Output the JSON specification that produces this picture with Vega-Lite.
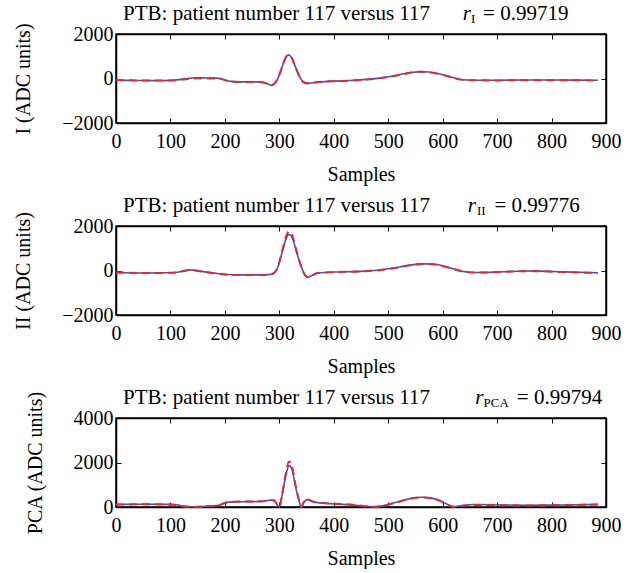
{
  "$schema": "https://vega.github.io/schema/vega-lite/v6.json",
  "background": "white",
  "padding": {"left": 12, "top": 2, "right": 5, "bottom": 0},
  "spacing": 9,
  "datasets": {
    "ecg": [
      {"lead":"I","series":"measured","sample":0,"adc":-80},{"lead":"I","series":"measured","sample":20,"adc":-85},{"lead":"I","series":"measured","sample":50,"adc":-90},{"lead":"I","series":"measured","sample":80,"adc":-95},{"lead":"I","series":"measured","sample":100,"adc":-85},{"lead":"I","series":"measured","sample":120,"adc":-40},{"lead":"I","series":"measured","sample":140,"adc":20},{"lead":"I","series":"measured","sample":150,"adc":35},{"lead":"I","series":"measured","sample":165,"adc":25},{"lead":"I","series":"measured","sample":185,"adc":15},{"lead":"I","series":"measured","sample":195,"adc":-20},{"lead":"I","series":"measured","sample":210,"adc":-130},{"lead":"I","series":"measured","sample":230,"adc":-150},{"lead":"I","series":"measured","sample":260,"adc":-150},{"lead":"I","series":"measured","sample":272,"adc":-180},{"lead":"I","series":"measured","sample":280,"adc":-260},{"lead":"I","series":"measured","sample":286,"adc":-310},{"lead":"I","series":"measured","sample":292,"adc":-220},{"lead":"I","series":"measured","sample":300,"adc":150},{"lead":"I","series":"measured","sample":307,"adc":650},{"lead":"I","series":"measured","sample":313,"adc":1000},{"lead":"I","series":"measured","sample":317,"adc":1060},{"lead":"I","series":"measured","sample":322,"adc":960},{"lead":"I","series":"measured","sample":330,"adc":500},{"lead":"I","series":"measured","sample":338,"adc":50},{"lead":"I","series":"measured","sample":345,"adc":-170},{"lead":"I","series":"measured","sample":352,"adc":-220},{"lead":"I","series":"measured","sample":362,"adc":-190},{"lead":"I","series":"measured","sample":380,"adc":-150},{"lead":"I","series":"measured","sample":400,"adc":-120},{"lead":"I","series":"measured","sample":430,"adc":-90},{"lead":"I","series":"measured","sample":460,"adc":-40},{"lead":"I","series":"measured","sample":490,"adc":40},{"lead":"I","series":"measured","sample":520,"adc":170},{"lead":"I","series":"measured","sample":545,"adc":280},{"lead":"I","series":"measured","sample":560,"adc":310},{"lead":"I","series":"measured","sample":575,"adc":290},{"lead":"I","series":"measured","sample":595,"adc":200},{"lead":"I","series":"measured","sample":615,"adc":70},{"lead":"I","series":"measured","sample":630,"adc":-30},{"lead":"I","series":"measured","sample":645,"adc":-70},{"lead":"I","series":"measured","sample":660,"adc":-80},{"lead":"I","series":"measured","sample":700,"adc":-80},{"lead":"I","series":"measured","sample":750,"adc":-70},{"lead":"I","series":"measured","sample":800,"adc":-70},{"lead":"I","series":"measured","sample":850,"adc":-75},{"lead":"I","series":"measured","sample":885,"adc":-80},

      {"lead":"I","series":"reconstructed","sample":0,"adc":-60},{"lead":"I","series":"reconstructed","sample":20,"adc":-80},{"lead":"I","series":"reconstructed","sample":50,"adc":-90},{"lead":"I","series":"reconstructed","sample":80,"adc":-95},{"lead":"I","series":"reconstructed","sample":100,"adc":-90},{"lead":"I","series":"reconstructed","sample":120,"adc":-50},{"lead":"I","series":"reconstructed","sample":140,"adc":0},{"lead":"I","series":"reconstructed","sample":150,"adc":10},{"lead":"I","series":"reconstructed","sample":165,"adc":0},{"lead":"I","series":"reconstructed","sample":185,"adc":0},{"lead":"I","series":"reconstructed","sample":195,"adc":-40},{"lead":"I","series":"reconstructed","sample":210,"adc":-140},{"lead":"I","series":"reconstructed","sample":230,"adc":-155},{"lead":"I","series":"reconstructed","sample":260,"adc":-155},{"lead":"I","series":"reconstructed","sample":272,"adc":-190},{"lead":"I","series":"reconstructed","sample":280,"adc":-260},{"lead":"I","series":"reconstructed","sample":286,"adc":-290},{"lead":"I","series":"reconstructed","sample":292,"adc":-200},{"lead":"I","series":"reconstructed","sample":300,"adc":170},{"lead":"I","series":"reconstructed","sample":307,"adc":660},{"lead":"I","series":"reconstructed","sample":313,"adc":990},{"lead":"I","series":"reconstructed","sample":317,"adc":1040},{"lead":"I","series":"reconstructed","sample":322,"adc":950},{"lead":"I","series":"reconstructed","sample":330,"adc":480},{"lead":"I","series":"reconstructed","sample":338,"adc":40},{"lead":"I","series":"reconstructed","sample":345,"adc":-180},{"lead":"I","series":"reconstructed","sample":352,"adc":-215},{"lead":"I","series":"reconstructed","sample":362,"adc":-180},{"lead":"I","series":"reconstructed","sample":380,"adc":-140},{"lead":"I","series":"reconstructed","sample":400,"adc":-120},{"lead":"I","series":"reconstructed","sample":430,"adc":-100},{"lead":"I","series":"reconstructed","sample":460,"adc":-50},{"lead":"I","series":"reconstructed","sample":490,"adc":30},{"lead":"I","series":"reconstructed","sample":520,"adc":160},{"lead":"I","series":"reconstructed","sample":545,"adc":270},{"lead":"I","series":"reconstructed","sample":560,"adc":300},{"lead":"I","series":"reconstructed","sample":575,"adc":280},{"lead":"I","series":"reconstructed","sample":595,"adc":190},{"lead":"I","series":"reconstructed","sample":615,"adc":60},{"lead":"I","series":"reconstructed","sample":630,"adc":-40},{"lead":"I","series":"reconstructed","sample":645,"adc":-75},{"lead":"I","series":"reconstructed","sample":660,"adc":-80},{"lead":"I","series":"reconstructed","sample":700,"adc":-85},{"lead":"I","series":"reconstructed","sample":750,"adc":-80},{"lead":"I","series":"reconstructed","sample":800,"adc":-75},{"lead":"I","series":"reconstructed","sample":850,"adc":-80},{"lead":"I","series":"reconstructed","sample":885,"adc":-90},

      {"lead":"II","series":"measured","sample":0,"adc":-100},{"lead":"II","series":"measured","sample":50,"adc":-110},{"lead":"II","series":"measured","sample":100,"adc":-100},{"lead":"II","series":"measured","sample":115,"adc":-70},{"lead":"II","series":"measured","sample":125,"adc":-10},{"lead":"II","series":"measured","sample":135,"adc":30},{"lead":"II","series":"measured","sample":145,"adc":10},{"lead":"II","series":"measured","sample":160,"adc":-50},{"lead":"II","series":"measured","sample":180,"adc":-110},{"lead":"II","series":"measured","sample":200,"adc":-170},{"lead":"II","series":"measured","sample":220,"adc":-195},{"lead":"II","series":"measured","sample":260,"adc":-195},{"lead":"II","series":"measured","sample":280,"adc":-185},{"lead":"II","series":"measured","sample":290,"adc":-120},{"lead":"II","series":"measured","sample":298,"adc":200},{"lead":"II","series":"measured","sample":305,"adc":800},{"lead":"II","series":"measured","sample":312,"adc":1400},{"lead":"II","series":"measured","sample":318,"adc":1620},{"lead":"II","series":"measured","sample":324,"adc":1450},{"lead":"II","series":"measured","sample":332,"adc":800},{"lead":"II","series":"measured","sample":340,"adc":200},{"lead":"II","series":"measured","sample":347,"adc":-200},{"lead":"II","series":"measured","sample":353,"adc":-290},{"lead":"II","series":"measured","sample":360,"adc":-220},{"lead":"II","series":"measured","sample":370,"adc":-110},{"lead":"II","series":"measured","sample":400,"adc":-70},{"lead":"II","series":"measured","sample":450,"adc":-40},{"lead":"II","series":"measured","sample":480,"adc":10},{"lead":"II","series":"measured","sample":510,"adc":110},{"lead":"II","series":"measured","sample":540,"adc":240},{"lead":"II","series":"measured","sample":565,"adc":300},{"lead":"II","series":"measured","sample":585,"adc":280},{"lead":"II","series":"measured","sample":605,"adc":180},{"lead":"II","series":"measured","sample":625,"adc":40},{"lead":"II","series":"measured","sample":640,"adc":-50},{"lead":"II","series":"measured","sample":660,"adc":-90},{"lead":"II","series":"measured","sample":700,"adc":-70},{"lead":"II","series":"measured","sample":750,"adc":-20},{"lead":"II","series":"measured","sample":780,"adc":-30},{"lead":"II","series":"measured","sample":820,"adc":-60},{"lead":"II","series":"measured","sample":885,"adc":-100},

      {"lead":"II","series":"reconstructed","sample":0,"adc":-80},{"lead":"II","series":"reconstructed","sample":50,"adc":-115},{"lead":"II","series":"reconstructed","sample":100,"adc":-105},{"lead":"II","series":"reconstructed","sample":115,"adc":-80},{"lead":"II","series":"reconstructed","sample":125,"adc":-20},{"lead":"II","series":"reconstructed","sample":135,"adc":20},{"lead":"II","series":"reconstructed","sample":145,"adc":0},{"lead":"II","series":"reconstructed","sample":160,"adc":-60},{"lead":"II","series":"reconstructed","sample":180,"adc":-120},{"lead":"II","series":"reconstructed","sample":200,"adc":-180},{"lead":"II","series":"reconstructed","sample":220,"adc":-205},{"lead":"II","series":"reconstructed","sample":260,"adc":-205},{"lead":"II","series":"reconstructed","sample":280,"adc":-195},{"lead":"II","series":"reconstructed","sample":290,"adc":-120},{"lead":"II","series":"reconstructed","sample":298,"adc":220},{"lead":"II","series":"reconstructed","sample":305,"adc":850},{"lead":"II","series":"reconstructed","sample":312,"adc":1500},{"lead":"II","series":"reconstructed","sample":318,"adc":1760},{"lead":"II","series":"reconstructed","sample":324,"adc":1560},{"lead":"II","series":"reconstructed","sample":332,"adc":840},{"lead":"II","series":"reconstructed","sample":340,"adc":200},{"lead":"II","series":"reconstructed","sample":347,"adc":-210},{"lead":"II","series":"reconstructed","sample":353,"adc":-310},{"lead":"II","series":"reconstructed","sample":360,"adc":-230},{"lead":"II","series":"reconstructed","sample":370,"adc":-115},{"lead":"II","series":"reconstructed","sample":400,"adc":-75},{"lead":"II","series":"reconstructed","sample":450,"adc":-45},{"lead":"II","series":"reconstructed","sample":480,"adc":5},{"lead":"II","series":"reconstructed","sample":510,"adc":100},{"lead":"II","series":"reconstructed","sample":540,"adc":230},{"lead":"II","series":"reconstructed","sample":565,"adc":295},{"lead":"II","series":"reconstructed","sample":585,"adc":270},{"lead":"II","series":"reconstructed","sample":605,"adc":170},{"lead":"II","series":"reconstructed","sample":625,"adc":30},{"lead":"II","series":"reconstructed","sample":640,"adc":-60},{"lead":"II","series":"reconstructed","sample":660,"adc":-95},{"lead":"II","series":"reconstructed","sample":700,"adc":-75},{"lead":"II","series":"reconstructed","sample":750,"adc":-30},{"lead":"II","series":"reconstructed","sample":780,"adc":-35},{"lead":"II","series":"reconstructed","sample":820,"adc":-70},{"lead":"II","series":"reconstructed","sample":885,"adc":-110},

      {"lead":"PCA","series":"measured","sample":0,"adc":120},{"lead":"PCA","series":"measured","sample":50,"adc":125},{"lead":"PCA","series":"measured","sample":100,"adc":120},{"lead":"PCA","series":"measured","sample":112,"adc":100},{"lead":"PCA","series":"measured","sample":125,"adc":30},{"lead":"PCA","series":"measured","sample":140,"adc":10},{"lead":"PCA","series":"measured","sample":155,"adc":15},{"lead":"PCA","series":"measured","sample":175,"adc":50},{"lead":"PCA","series":"measured","sample":190,"adc":90},{"lead":"PCA","series":"measured","sample":200,"adc":180},{"lead":"PCA","series":"measured","sample":215,"adc":230},{"lead":"PCA","series":"measured","sample":240,"adc":240},{"lead":"PCA","series":"measured","sample":270,"adc":250},{"lead":"PCA","series":"measured","sample":283,"adc":310},{"lead":"PCA","series":"measured","sample":290,"adc":290},{"lead":"PCA","series":"measured","sample":296,"adc":100},{"lead":"PCA","series":"measured","sample":300,"adc":0},{"lead":"PCA","series":"measured","sample":305,"adc":500},{"lead":"PCA","series":"measured","sample":311,"adc":1300},{"lead":"PCA","series":"measured","sample":318,"adc":1860},{"lead":"PCA","series":"measured","sample":323,"adc":1700},{"lead":"PCA","series":"measured","sample":330,"adc":900},{"lead":"PCA","series":"measured","sample":336,"adc":300},{"lead":"PCA","series":"measured","sample":340,"adc":0},{"lead":"PCA","series":"measured","sample":346,"adc":250},{"lead":"PCA","series":"measured","sample":352,"adc":330},{"lead":"PCA","series":"measured","sample":360,"adc":250},{"lead":"PCA","series":"measured","sample":375,"adc":180},{"lead":"PCA","series":"measured","sample":400,"adc":140},{"lead":"PCA","series":"measured","sample":440,"adc":80},{"lead":"PCA","series":"measured","sample":465,"adc":20},{"lead":"PCA","series":"measured","sample":475,"adc":10},{"lead":"PCA","series":"measured","sample":490,"adc":60},{"lead":"PCA","series":"measured","sample":520,"adc":250},{"lead":"PCA","series":"measured","sample":545,"adc":400},{"lead":"PCA","series":"measured","sample":562,"adc":440},{"lead":"PCA","series":"measured","sample":580,"adc":400},{"lead":"PCA","series":"measured","sample":600,"adc":230},{"lead":"PCA","series":"measured","sample":612,"adc":80},{"lead":"PCA","series":"measured","sample":620,"adc":10},{"lead":"PCA","series":"measured","sample":635,"adc":60},{"lead":"PCA","series":"measured","sample":655,"adc":110},{"lead":"PCA","series":"measured","sample":700,"adc":100},{"lead":"PCA","series":"measured","sample":760,"adc":80},{"lead":"PCA","series":"measured","sample":820,"adc":90},{"lead":"PCA","series":"measured","sample":885,"adc":120},

      {"lead":"PCA","series":"reconstructed","sample":0,"adc":110},{"lead":"PCA","series":"reconstructed","sample":50,"adc":120},{"lead":"PCA","series":"reconstructed","sample":100,"adc":110},{"lead":"PCA","series":"reconstructed","sample":112,"adc":80},{"lead":"PCA","series":"reconstructed","sample":125,"adc":20},{"lead":"PCA","series":"reconstructed","sample":140,"adc":5},{"lead":"PCA","series":"reconstructed","sample":155,"adc":10},{"lead":"PCA","series":"reconstructed","sample":175,"adc":40},{"lead":"PCA","series":"reconstructed","sample":190,"adc":80},{"lead":"PCA","series":"reconstructed","sample":200,"adc":190},{"lead":"PCA","series":"reconstructed","sample":215,"adc":240},{"lead":"PCA","series":"reconstructed","sample":240,"adc":245},{"lead":"PCA","series":"reconstructed","sample":270,"adc":260},{"lead":"PCA","series":"reconstructed","sample":283,"adc":320},{"lead":"PCA","series":"reconstructed","sample":290,"adc":300},{"lead":"PCA","series":"reconstructed","sample":296,"adc":110},{"lead":"PCA","series":"reconstructed","sample":300,"adc":0},{"lead":"PCA","series":"reconstructed","sample":305,"adc":560},{"lead":"PCA","series":"reconstructed","sample":311,"adc":1400},{"lead":"PCA","series":"reconstructed","sample":318,"adc":2040},{"lead":"PCA","series":"reconstructed","sample":323,"adc":1850},{"lead":"PCA","series":"reconstructed","sample":330,"adc":950},{"lead":"PCA","series":"reconstructed","sample":336,"adc":320},{"lead":"PCA","series":"reconstructed","sample":340,"adc":0},{"lead":"PCA","series":"reconstructed","sample":346,"adc":270},{"lead":"PCA","series":"reconstructed","sample":352,"adc":350},{"lead":"PCA","series":"reconstructed","sample":360,"adc":260},{"lead":"PCA","series":"reconstructed","sample":375,"adc":190},{"lead":"PCA","series":"reconstructed","sample":400,"adc":150},{"lead":"PCA","series":"reconstructed","sample":440,"adc":90},{"lead":"PCA","series":"reconstructed","sample":465,"adc":25},{"lead":"PCA","series":"reconstructed","sample":475,"adc":10},{"lead":"PCA","series":"reconstructed","sample":490,"adc":50},{"lead":"PCA","series":"reconstructed","sample":520,"adc":240},{"lead":"PCA","series":"reconstructed","sample":545,"adc":390},{"lead":"PCA","series":"reconstructed","sample":562,"adc":430},{"lead":"PCA","series":"reconstructed","sample":580,"adc":390},{"lead":"PCA","series":"reconstructed","sample":600,"adc":220},{"lead":"PCA","series":"reconstructed","sample":612,"adc":70},{"lead":"PCA","series":"reconstructed","sample":620,"adc":10},{"lead":"PCA","series":"reconstructed","sample":635,"adc":50},{"lead":"PCA","series":"reconstructed","sample":655,"adc":90},{"lead":"PCA","series":"reconstructed","sample":700,"adc":85},{"lead":"PCA","series":"reconstructed","sample":760,"adc":70},{"lead":"PCA","series":"reconstructed","sample":820,"adc":85},{"lead":"PCA","series":"reconstructed","sample":885,"adc":110}
    ]
  },
  "vconcat": [
    {
      "width": 490, "height": 89,
      "resolve": {"axis": {"x": "independent", "y": "independent"}},
      "layer": [
        {
          "data": {"name": "ecg"},
          "transform": [{"filter": "datum.lead === 'I' && datum.series === 'measured'"}],
          "mark": {"type": "line", "color": "#3a56c8", "strokeWidth": 1.6, "interpolate": "monotone"},
          "encoding": {
            "x": {"field": "sample", "type": "quantitative", "scale": {"domain": [0, 900], "nice": false}, "axis": {"title": "Samples", "values": [0,100,200,300,400,500,600,700,800,900]}},
            "y": {"field": "adc", "type": "quantitative", "scale": {"domain": [-2000, 2000], "nice": false}, "axis": {"title": "I (ADC units)", "values": [-2000, 0, 2000], "format": "d"}}
          }
        },
        {
          "data": {"name": "ecg"},
          "transform": [{"filter": "datum.lead === 'I' && datum.series === 'reconstructed'"}],
          "mark": {"type": "line", "color": "#e8262e", "strokeWidth": 2, "strokeDash": [8, 5], "interpolate": "monotone"},
          "encoding": {
            "x": {"field": "sample", "type": "quantitative", "scale": {"domain": [0, 900], "nice": false}, "axis": {"orient": "top", "labels": false, "title": null, "values": [0,100,200,300,400,500,600,700,800,900]}},
            "y": {"field": "adc", "type": "quantitative", "scale": {"domain": [-2000, 2000], "nice": false}, "axis": {"orient": "right", "labels": false, "title": null, "values": [-2000, 0, 2000]}}
          }
        },
        {
          "data": {"values": [{"sample": 13, "adc": 2629, "label": "PTB: patient number 117 versus 117"}]},
          "mark": {"type": "text", "align": "left", "baseline": "alphabetic", "fontSize": 21, "font": "Liberation Serif", "color": "black"},
          "encoding": {
            "x": {"field": "sample", "type": "quantitative", "scale": {"domain": [0, 900], "nice": false}, "axis": null},
            "y": {"field": "adc", "type": "quantitative", "scale": {"domain": [-2000, 2000], "nice": false}, "axis": null},
            "text": {"field": "label"}
          }
        },
        {
          "data": {"values": [{"sample": 637, "adc": 2629, "label": "r"}]},
          "mark": {"type": "text", "align": "left", "baseline": "alphabetic", "fontSize": 21, "fontStyle": "italic", "font": "Liberation Serif", "color": "black"},
          "encoding": {
            "x": {"field": "sample", "type": "quantitative", "scale": {"domain": [0, 900], "nice": false}, "axis": null},
            "y": {"field": "adc", "type": "quantitative", "scale": {"domain": [-2000, 2000], "nice": false}, "axis": null},
            "text": {"field": "label"}
          }
        },
        {
          "data": {"values": [{"sample": 652, "adc": 2494, "label": "I"}]},
          "mark": {"type": "text", "align": "left", "baseline": "alphabetic", "fontSize": 13, "font": "Liberation Serif", "color": "black"},
          "encoding": {
            "x": {"field": "sample", "type": "quantitative", "scale": {"domain": [0, 900], "nice": false}, "axis": null},
            "y": {"field": "adc", "type": "quantitative", "scale": {"domain": [-2000, 2000], "nice": false}, "axis": null},
            "text": {"field": "label"}
          }
        },
        {
          "data": {"values": [{"sample": 831, "adc": 2629, "label": "= 0.99719"}]},
          "mark": {"type": "text", "align": "right", "baseline": "alphabetic", "fontSize": 21, "font": "Liberation Serif", "color": "black"},
          "encoding": {
            "x": {"field": "sample", "type": "quantitative", "scale": {"domain": [0, 900], "nice": false}, "axis": null},
            "y": {"field": "adc", "type": "quantitative", "scale": {"domain": [-2000, 2000], "nice": false}, "axis": null},
            "text": {"field": "label"}
          }
        }
      ]
    },
    {
      "width": 490, "height": 89,
      "resolve": {"axis": {"x": "independent", "y": "independent"}},
      "layer": [
        {
          "data": {"name": "ecg"},
          "transform": [{"filter": "datum.lead === 'II' && datum.series === 'measured'"}],
          "mark": {"type": "line", "color": "#3a56c8", "strokeWidth": 1.6, "interpolate": "monotone"},
          "encoding": {
            "x": {"field": "sample", "type": "quantitative", "scale": {"domain": [0, 900], "nice": false}, "axis": {"title": "Samples", "values": [0,100,200,300,400,500,600,700,800,900]}},
            "y": {"field": "adc", "type": "quantitative", "scale": {"domain": [-2000, 2000], "nice": false}, "axis": {"title": "II (ADC units)", "values": [-2000, 0, 2000], "format": "d"}}
          }
        },
        {
          "data": {"name": "ecg"},
          "transform": [{"filter": "datum.lead === 'II' && datum.series === 'reconstructed'"}],
          "mark": {"type": "line", "color": "#e8262e", "strokeWidth": 2, "strokeDash": [8, 5], "interpolate": "monotone"},
          "encoding": {
            "x": {"field": "sample", "type": "quantitative", "scale": {"domain": [0, 900], "nice": false}, "axis": {"orient": "top", "labels": false, "title": null, "values": [0,100,200,300,400,500,600,700,800,900]}},
            "y": {"field": "adc", "type": "quantitative", "scale": {"domain": [-2000, 2000], "nice": false}, "axis": {"orient": "right", "labels": false, "title": null, "values": [-2000, 0, 2000]}}
          }
        },
        {
          "data": {"values": [{"sample": 13, "adc": 2629, "label": "PTB: patient number 117 versus 117"}]},
          "mark": {"type": "text", "align": "left", "baseline": "alphabetic", "fontSize": 21, "font": "Liberation Serif", "color": "black"},
          "encoding": {
            "x": {"field": "sample", "type": "quantitative", "scale": {"domain": [0, 900], "nice": false}, "axis": null},
            "y": {"field": "adc", "type": "quantitative", "scale": {"domain": [-2000, 2000], "nice": false}, "axis": null},
            "text": {"field": "label"}
          }
        },
        {
          "data": {"values": [{"sample": 646, "adc": 2629, "label": "r"}]},
          "mark": {"type": "text", "align": "left", "baseline": "alphabetic", "fontSize": 21, "fontStyle": "italic", "font": "Liberation Serif", "color": "black"},
          "encoding": {
            "x": {"field": "sample", "type": "quantitative", "scale": {"domain": [0, 900], "nice": false}, "axis": null},
            "y": {"field": "adc", "type": "quantitative", "scale": {"domain": [-2000, 2000], "nice": false}, "axis": null},
            "text": {"field": "label"}
          }
        },
        {
          "data": {"values": [{"sample": 663, "adc": 2494, "label": "II"}]},
          "mark": {"type": "text", "align": "left", "baseline": "alphabetic", "fontSize": 13, "font": "Liberation Serif", "color": "black"},
          "encoding": {
            "x": {"field": "sample", "type": "quantitative", "scale": {"domain": [0, 900], "nice": false}, "axis": null},
            "y": {"field": "adc", "type": "quantitative", "scale": {"domain": [-2000, 2000], "nice": false}, "axis": null},
            "text": {"field": "label"}
          }
        },
        {
          "data": {"values": [{"sample": 852, "adc": 2629, "label": "= 0.99776"}]},
          "mark": {"type": "text", "align": "right", "baseline": "alphabetic", "fontSize": 21, "font": "Liberation Serif", "color": "black"},
          "encoding": {
            "x": {"field": "sample", "type": "quantitative", "scale": {"domain": [0, 900], "nice": false}, "axis": null},
            "y": {"field": "adc", "type": "quantitative", "scale": {"domain": [-2000, 2000], "nice": false}, "axis": null},
            "text": {"field": "label"}
          }
        }
      ]
    },
    {
      "width": 490, "height": 89,
      "resolve": {"axis": {"x": "independent", "y": "independent"}},
      "layer": [
        {
          "data": {"name": "ecg"},
          "transform": [{"filter": "datum.lead === 'PCA' && datum.series === 'measured'"}],
          "mark": {"type": "line", "color": "#3a56c8", "strokeWidth": 1.6, "interpolate": "monotone"},
          "encoding": {
            "x": {"field": "sample", "type": "quantitative", "scale": {"domain": [0, 900], "nice": false}, "axis": {"title": "Samples", "values": [0,100,200,300,400,500,600,700,800,900]}},
            "y": {"field": "adc", "type": "quantitative", "scale": {"domain": [0, 4000], "nice": false}, "axis": {"title": "PCA (ADC units)", "values": [0, 2000, 4000], "format": "d"}}
          }
        },
        {
          "data": {"name": "ecg"},
          "transform": [{"filter": "datum.lead === 'PCA' && datum.series === 'reconstructed'"}],
          "mark": {"type": "line", "color": "#e8262e", "strokeWidth": 2, "strokeDash": [8, 5], "interpolate": "monotone"},
          "encoding": {
            "x": {"field": "sample", "type": "quantitative", "scale": {"domain": [0, 900], "nice": false}, "axis": {"orient": "top", "labels": false, "title": null, "values": [0,100,200,300,400,500,600,700,800,900]}},
            "y": {"field": "adc", "type": "quantitative", "scale": {"domain": [0, 4000], "nice": false}, "axis": {"orient": "right", "labels": false, "title": null, "values": [0, 2000, 4000]}}
          }
        },
        {
          "data": {"values": [{"sample": 13, "adc": 4629, "label": "PTB: patient number 117 versus 117"}]},
          "mark": {"type": "text", "align": "left", "baseline": "alphabetic", "fontSize": 21, "font": "Liberation Serif", "color": "black"},
          "encoding": {
            "x": {"field": "sample", "type": "quantitative", "scale": {"domain": [0, 900], "nice": false}, "axis": null},
            "y": {"field": "adc", "type": "quantitative", "scale": {"domain": [0, 4000], "nice": false}, "axis": null},
            "text": {"field": "label"}
          }
        },
        {
          "data": {"values": [{"sample": 660, "adc": 4629, "label": "r"}]},
          "mark": {"type": "text", "align": "left", "baseline": "alphabetic", "fontSize": 21, "fontStyle": "italic", "font": "Liberation Serif", "color": "black"},
          "encoding": {
            "x": {"field": "sample", "type": "quantitative", "scale": {"domain": [0, 900], "nice": false}, "axis": null},
            "y": {"field": "adc", "type": "quantitative", "scale": {"domain": [0, 4000], "nice": false}, "axis": null},
            "text": {"field": "label"}
          }
        },
        {
          "data": {"values": [{"sample": 675, "adc": 4494, "label": "PCA"}]},
          "mark": {"type": "text", "align": "left", "baseline": "alphabetic", "fontSize": 13, "font": "Liberation Serif", "color": "black"},
          "encoding": {
            "x": {"field": "sample", "type": "quantitative", "scale": {"domain": [0, 900], "nice": false}, "axis": null},
            "y": {"field": "adc", "type": "quantitative", "scale": {"domain": [0, 4000], "nice": false}, "axis": null},
            "text": {"field": "label"}
          }
        },
        {
          "data": {"values": [{"sample": 893, "adc": 4629, "label": "= 0.99794"}]},
          "mark": {"type": "text", "align": "right", "baseline": "alphabetic", "fontSize": 21, "font": "Liberation Serif", "color": "black"},
          "encoding": {
            "x": {"field": "sample", "type": "quantitative", "scale": {"domain": [0, 900], "nice": false}, "axis": null},
            "y": {"field": "adc", "type": "quantitative", "scale": {"domain": [0, 4000], "nice": false}, "axis": null},
            "text": {"field": "label"}
          }
        }
      ]
    }
  ],
  "config": {
    "font": "Liberation Serif",
    "view": {"stroke": "black", "strokeWidth": 1.5},
    "axis": {"domainColor": "black", "domainWidth": 1.5, "tickColor": "black", "tickWidth": 1, "tickSize": -5, "labelFlush": false, "labelFont": "Liberation Serif", "labelFontSize": 20, "labelColor": "black", "titleFont": "Liberation Serif", "titleFontSize": 20, "titleFontWeight": "normal", "titleColor": "black", "grid": false},
    "axisY": {"titlePadding": 28, "labelPadding": 8},
    "axisX": {"titlePadding": 13, "labelPadding": 13}
  }
}
